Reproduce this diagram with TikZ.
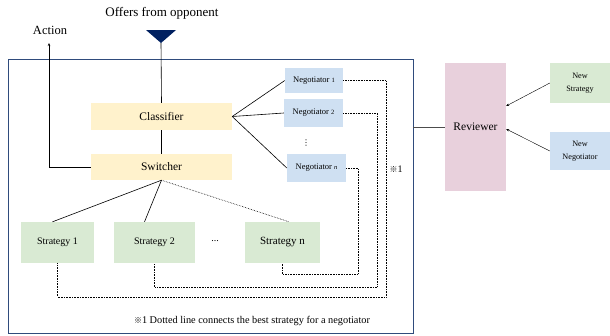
\documentclass[tikz,border=0pt]{standalone}
\usepackage{fontspec}
\usetikzlibrary{arrows.meta}
\setmainfont{Liberation Serif}
\newfontfamily\cjk{Noto Sans CJK JP}
\newfontfamily\djv{DejaVu Sans}
\definecolor{yel}{HTML}{FFF2CC}
\definecolor{blu}{HTML}{CFE0F2}
\definecolor{grn}{HTML}{D9EAD3}
\definecolor{pnk}{HTML}{E8D0DC}
\definecolor{navy}{HTML}{002060}
\definecolor{framec}{HTML}{2F4B7C}
\begin{document}
\begin{tikzpicture}[x=1pt,y=-1pt,
  box/.style={inner sep=0pt, align=center},
  ybox/.style={box, fill=yel, minimum width=141pt},
  nbox/.style={box, fill=blu, minimum width=59pt, minimum height=27pt, font=\fontsize{8.5}{10}\selectfont},
  sbox/.style={box, fill=grn, minimum height=41pt, font=\fontsize{10}{12}\selectfont},
  rbox/.style={box, font=\fontsize{8.2}{13}\selectfont},
  dotl/.style={densely dotted, line width=0.6pt},
  conn/.style={line width=0.6pt},
  thinarrow/.style={line width=0.4pt, -{Stealth[length=3pt,width=2.5pt]}}
]
\useasboundingbox (0,0) rectangle (610,335);
% frame
\node[draw=framec, line width=0.7pt, minimum width=405pt, minimum height=274pt, inner sep=0pt] (frame) at (210.5,196) {};
% top
\node[font=\fontsize{13}{15}\selectfont] (offers) at (162,13) {Offers from opponent};
\node[font=\fontsize{12.5}{14}\selectfont] (action) at (50,30) {Action};
\fill[navy] (146,30) -- (176,30) -- (161,43) -- cycle;
\coordinate (tri) at (161,43);
\coordinate (acttip) at (49,43);
% main boxes
\node[ybox, minimum height=27pt, font=\fontsize{11.5}{13}\selectfont] (cls) at (161.5,116.5) {Classifier};
\node[ybox, minimum height=26pt, font=\fontsize{11.5}{13}\selectfont] (sw) at (161.5,167) {Switcher};
\node[nbox, minimum width=58pt, minimum height=25pt] (n1) at (314,80.5) {Negotiator {\fontsize{6.5}{7}\selectfont 1}};
\node[nbox, minimum height=28pt] (n2) at (313.5,113) {Negotiator {\fontsize{6.5}{7}\selectfont 2}};
\node[font=\djv\fontsize{8}{8}\selectfont] (vd) at (306,143) {⋮};
\node[nbox, minimum height=28pt] (nn) at (316.5,168) {Negotiator {\fontsize{6.5}{7}\selectfont\itshape n}};
\node[sbox, minimum width=73pt] (s1) at (57.5,242.5) {Strategy 1};
\node[sbox, minimum width=81pt] (s2) at (154.5,242.5) {Strategy 2};
\node[sbox, minimum width=75pt, font=\fontsize{11}{13}\selectfont] (sn) at (282.5,242.5) {Strategy n};
\node[font=\fontsize{10}{10}\selectfont] (dots) at (215,241) {...};
\node[font=\fontsize{10}{11}\selectfont] (note1) at (396,169) {{\cjk\fontsize{8}{9}\selectfont ※}1};
\node[font=\fontsize{10.3}{12}\selectfont] (foot) at (252,321) {{\cjk\fontsize{8}{9}\selectfont ※}1 Dotted line connects the best strategy for a negotiator};
% right side
\node[box, fill=pnk, minimum width=61pt, minimum height=128pt, font=\fontsize{11.5}{13}\selectfont] (rev) at (475.5,127) {Reviewer};
\node[rbox, fill=grn, minimum width=60pt, minimum height=40pt] (ns) at (580,83) {New\\Strategy};
\node[rbox, fill=blu, minimum width=60pt, minimum height=38pt] (nneg) at (580,151) {New\\Negotiator};
% connectors
\draw[conn] (tri) -- (cls.north);
\draw[conn] (cls.south) -- (sw.north);
\draw[conn, -{Stealth[length=3pt,width=2.5pt]}] (sw.west) -| (acttip);
\draw[conn] (cls.east) -- (n1.west);
\draw[conn] (cls.east) -- (n2.west);
\draw[conn] (cls.east) -- (nn.west);
\draw[conn] (sw.south) -- ([xshift=-5pt]s1.north);
\draw[conn] (sw.south) -- ([xshift=-10pt]s2.north);
\draw[dotl] (sw.south) -- ([xshift=6.5pt]sn.north);
\coordinate (c1) at (386,297);
\coordinate (c2) at (377,287);
\coordinate (c3) at (358,274);
\draw[dotl] (n1.east) -| (c1) -| (s1.south);
\draw[dotl] (n2.east) -| (c2) -| (s2.south);
\draw[dotl] (nn.east) -| (c3) -| (sn.south);
\draw[line width=0.7pt, black!70] (rev.west -| frame.east) -- (rev.west);
\draw[thinarrow] (ns.west) -- ([yshift=21pt]rev.east);
\draw[thinarrow] (nneg.west) -- ([yshift=-2pt]rev.east);
\end{tikzpicture}
\end{document}
